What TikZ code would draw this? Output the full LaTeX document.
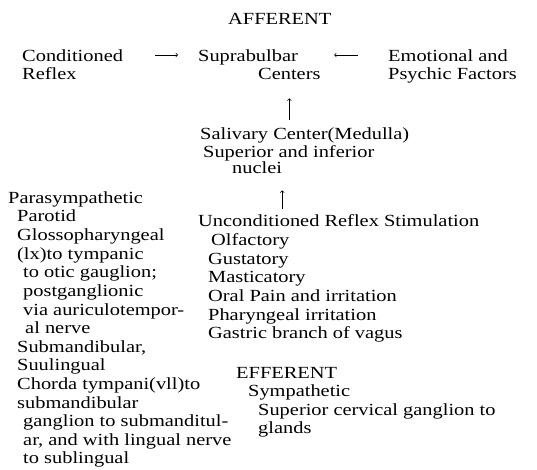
\documentclass[tikz,border=0pt]{standalone}
\usepackage{fontspec}
\setmainfont{Liberation Serif}[FakeStretch=1.2]
\usetikzlibrary{positioning}

\begin{document}
\begin{tikzpicture}[x=1bp, y=-1bp,
    entry/.style={inner sep=0pt, anchor=base west, align=left, font=\fontsize{17bp}{18.6bp}\selectfont},
    flow/.style={->, line width=0.7pt}]
    \useasboundingbox (0,0) rectangle (537,470);

    % Afferent
    \node (afferent) [entry] at (228,25) {AFFERENT};
    \node (cond) [entry] at (22,62) {Conditioned};
    \node (reflex) [entry] at (22,80) {Reflex};
    \node (supra) [entry] at (198,62) {Suprabulbar};
    \node (centers) [entry] at (258,80) {Centers};
    \node (emotion) [entry] at (388,62) {Emotional and};
    \node (psychic) [entry] at (388,80) {Psychic Factors};

    % Salivary center
    \node (salivary) [entry] at (200,140) {Salivary Center(Medulla)};
    \node (superior) [entry] at (203,158) {Superior and inferior};
    \node (nuclei) [entry] at (232,174) {nuclei};

    % Parasympathetic (multi-line nodes sit on their last line)
    \node (para) [entry] at (8,204) {Parasympathetic};
    \node (parotid) [entry] at (17,333.6) {Parotid\\Glossopharyngeal\\(lx)to tympanic\\
        \hspace*{6bp}to otic gauglion;\\\hspace*{6bp}postganglionic\\
        \hspace*{6bp}via auriculotempor-\\\hspace*{8bp}al nerve};
    \node (submand) [entry] at (17,463.8) {Submandibular,\\Suulingual\\Chorda tympani(vll)to\\submandibular\\
        \hspace*{6bp}ganglion to submanditul-\\\hspace*{6bp}ar, and with lingual nerve\\
        \hspace*{6bp}to sublingual};

    % Unconditioned reflex
    \node (uncond) [entry] at (198,227) {Unconditioned Reflex Stimulation};
    \node (stimuli) [entry] at (208,338.6) {\hspace*{3bp}Olfactory\\Gustatory\\Masticatory\\
        Oral Pain and irritation\\Pharyngeal irritation\\Gastric branch of vagus};

    % Efferent
    \node (efferent) [entry] at (236,378) {EFFERENT};
    \node (symp) [entry] at (248,396.6) {Sympathetic};
    \node (cervical) [entry] at (258,433.8) {Superior cervical ganglion to\\glands};

    % Arrows
    \draw[flow, shorten <=32bp, shorten >=20bp] ([yshift=7bp]cond.base east) -- ([yshift=7bp]supra.base west);
    \draw[flow, shorten <=30bp, shorten >=36bp] ([yshift=7bp]emotion.base west) -- ([yshift=7bp]supra.base east);
    \draw[flow, shorten <=8bp, shorten >=18bp] (salivary.north -| centers.south) -- (centers.south);
    \draw[flow, shorten <=6bp, shorten >=16bp] (uncond.north -| nuclei.south east) -- (nuclei.south east);
\end{tikzpicture}
\end{document}
